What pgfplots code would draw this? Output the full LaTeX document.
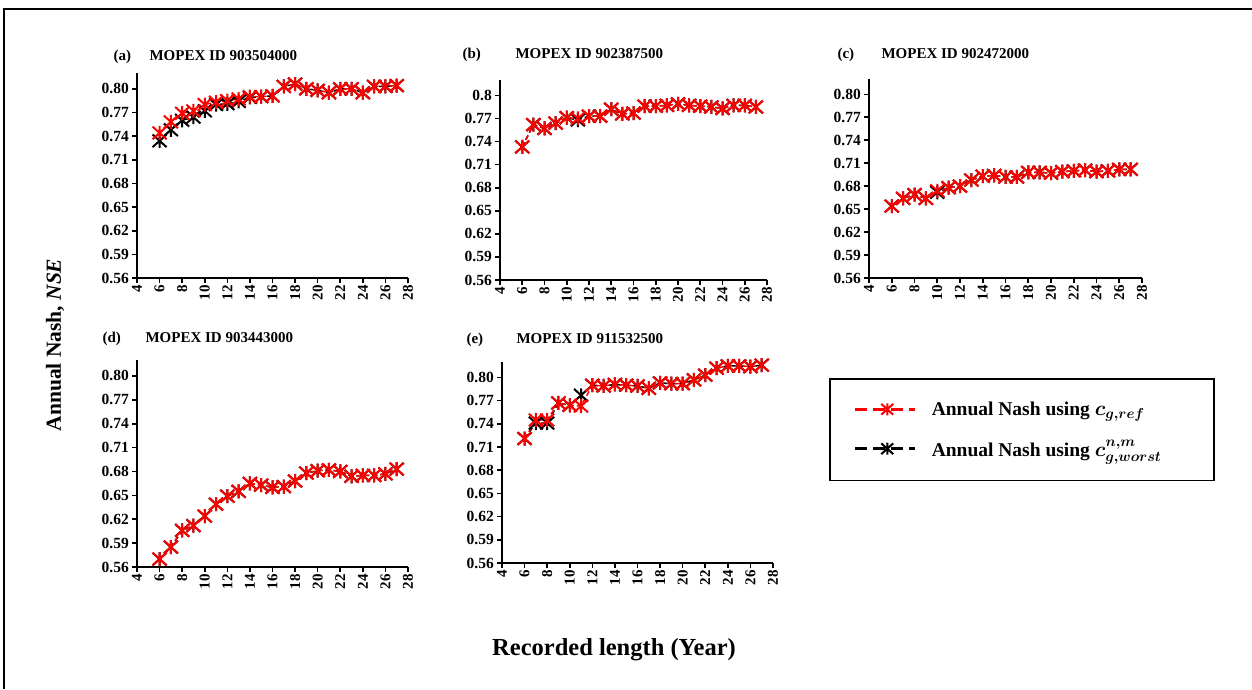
\documentclass[border=0pt]{standalone}
\usepackage{pgfplots}
\pgfplotsset{compat=1.18}
\usepackage{amsmath}
\usepackage{bm}
\usepackage{fontspec}
\setmainfont{Liberation Serif}
\newcommand\fs[1]{\fontsize{#1}{#1}\selectfont}
\pgfdeclareplotmark{xstar}{%
  \pgfpathmoveto{\pgfqpoint{-\pgfplotmarksize}{-0.9\pgfplotmarksize}}%
  \pgfpathlineto{\pgfqpoint{\pgfplotmarksize}{0.9\pgfplotmarksize}}%
  \pgfpathmoveto{\pgfqpoint{-\pgfplotmarksize}{0.9\pgfplotmarksize}}%
  \pgfpathlineto{\pgfqpoint{\pgfplotmarksize}{-0.9\pgfplotmarksize}}%
  \pgfpathmoveto{\pgfqpoint{0pt}{-\pgfplotmarksize}}%
  \pgfpathlineto{\pgfqpoint{0pt}{\pgfplotmarksize}}%
  \pgfusepathqstroke}
\pgfplotsset{
  panel/.style={
    scale only axis, anchor=south west,
    xmin=4, xmax=28, ymin=0.56, ymax=0.82,
    xtick={4,6,8,10,12,14,16,18,20,22,24,26,28},
    ytick={0.56,0.59,0.62,0.65,0.68,0.71,0.74,0.77,0.80},
    axis x line*=bottom, axis y line*=left,
    axis line style={line width=2pt, black},
    tick style={line width=1.6pt, black},
    major tick length=5pt, tick align=outside,
    /pgf/number format/assume math mode=true,
    xticklabel style={rotate=90, anchor=east, font=\bfseries\fs{15}, inner sep=2pt},
    yticklabel style={font=\bfseries\fs{15.5}, inner sep=3pt,
      /pgf/number format/.cd, fixed, fixed zerofill, precision=2},
    clip=false,
  },
  redser/.style={red, line width=1.5pt, dash pattern=on 5pt off 3pt,
    mark=xstar, mark size=7pt, mark options={solid, line width=2pt}},
  blkser/.style={black, line width=1.5pt, dash pattern=on 5pt off 3pt,
    mark=xstar, mark size=7pt, mark options={solid, line width=2pt}},
}
\begin{document}
\begin{tikzpicture}
\useasboundingbox (0pt,0pt) rectangle (1252pt,-689pt);
\draw[line width=2pt] (4pt,-689pt) -- (4pt,-9pt) -- (1252pt,-9pt);

% (a)
\begin{axis}[panel, at={(137pt,-278pt)}, width=271pt, height=205pt]
\addplot[blkser] coordinates {(6,0.734)(7,0.748)(8,0.760)(9,0.764)(10,0.772)(11,0.780)(12,0.781)(13,0.784)(14,0.789)(15,0.790)(16,0.791)(17,0.803)(18,0.806)(19,0.800)(20,0.798)(21,0.795)(22,0.800)(23,0.800)(24,0.795)(25,0.803)(26,0.803)(27,0.804)};
\addplot[redser] coordinates {(6,0.744)(7,0.758)(8,0.769)(9,0.772)(10,0.780)(11,0.783)(12,0.785)(13,0.787)(14,0.790)(15,0.790)(16,0.791)(17,0.803)(18,0.806)(19,0.800)(20,0.798)(21,0.795)(22,0.800)(23,0.800)(24,0.795)(25,0.803)(26,0.803)(27,0.804)};
\end{axis}

% (b)
\begin{axis}[panel, at={(500pt,-280pt)}, width=267pt, height=200pt,
  yticklabels={0.56,0.59,0.62,0.65,0.68,0.71,0.74,0.77,0.8}]
\addplot[blkser] coordinates {(6,0.733)(7,0.762)(8,0.757)(9,0.764)(10,0.771)(11,0.768)(12,0.773)(13,0.773)(14,0.782)(15,0.776)(16,0.777)(17,0.786)(18,0.786)(19,0.787)(20,0.789)(21,0.787)(22,0.786)(23,0.785)(24,0.783)(25,0.787)(26,0.787)(27,0.785)};
\addplot[redser] coordinates {(6,0.733)(7,0.762)(8,0.757)(9,0.764)(10,0.771)(11,0.770)(12,0.773)(13,0.773)(14,0.782)(15,0.776)(16,0.777)(17,0.786)(18,0.786)(19,0.787)(20,0.789)(21,0.787)(22,0.786)(23,0.785)(24,0.783)(25,0.787)(26,0.787)(27,0.785)};
\end{axis}

% (c)
\begin{axis}[panel, at={(869pt,-278pt)}, width=273pt, height=199pt]
\addplot[blkser] coordinates {(6,0.654)(7,0.664)(8,0.669)(9,0.664)(10,0.672)(11,0.678)(12,0.680)(13,0.688)(14,0.693)(15,0.694)(16,0.692)(17,0.692)(18,0.698)(19,0.698)(20,0.697)(21,0.699)(22,0.700)(23,0.701)(24,0.699)(25,0.700)(26,0.702)(27,0.702)};
\addplot[redser] coordinates {(6,0.654)(7,0.664)(8,0.669)(9,0.664)(10,0.674)(11,0.678)(12,0.680)(13,0.688)(14,0.693)(15,0.694)(16,0.692)(17,0.692)(18,0.698)(19,0.698)(20,0.697)(21,0.699)(22,0.700)(23,0.701)(24,0.699)(25,0.700)(26,0.702)(27,0.702)};
\end{axis}

% (d)
\begin{axis}[panel, at={(137pt,-567pt)}, width=271pt, height=207pt]
\addplot[blkser] coordinates {(6,0.570)(7,0.585)(8,0.606)(9,0.612)(10,0.624)(11,0.639)(12,0.649)(13,0.655)(14,0.665)(15,0.663)(16,0.660)(17,0.661)(18,0.668)(19,0.678)(20,0.681)(21,0.682)(22,0.680)(23,0.674)(24,0.675)(25,0.675)(26,0.677)(27,0.683)};
\addplot[redser] coordinates {(6,0.570)(7,0.585)(8,0.606)(9,0.612)(10,0.624)(11,0.639)(12,0.649)(13,0.655)(14,0.665)(15,0.663)(16,0.660)(17,0.661)(18,0.668)(19,0.678)(20,0.681)(21,0.682)(22,0.680)(23,0.674)(24,0.675)(25,0.675)(26,0.677)(27,0.683)};
\end{axis}

% (e)
\begin{axis}[panel, at={(502pt,-563pt)}, width=271pt, height=201pt,
  legend style={at={(1.2066,0.9204)}, anchor=north west, draw=black, line width=1.5pt,
    inner xsep=24pt, inner ysep=21pt, row sep=19pt, font=\bfseries\fs{19.5}},
  legend cell align=left,
  legend image code/.code={%
    \draw[#1, mark repeat=2, mark phase=2, line width=3pt, dash pattern=on 12pt off 6pt,
      mark size=6pt, mark options={solid, line width=2pt}]
      plot coordinates {(0pt,0pt) (32pt,0pt) (60pt,0pt)};}]
\addplot[blkser, forget plot] coordinates {(6,0.721)(7,0.741)(8,0.741)(9,0.767)(10,0.764)(11,0.777)(12,0.790)(13,0.789)(14,0.791)(15,0.790)(16,0.789)(17,0.786)(18,0.793)(19,0.792)(20,0.792)(21,0.797)(22,0.803)(23,0.812)(24,0.815)(25,0.815)(26,0.814)(27,0.816)};
\addplot[redser, forget plot] coordinates {(6,0.721)(7,0.745)(8,0.745)(9,0.767)(10,0.764)(11,0.763)(12,0.790)(13,0.789)(14,0.791)(15,0.790)(16,0.789)(17,0.786)(18,0.793)(19,0.792)(20,0.792)(21,0.797)(22,0.803)(23,0.812)(24,0.815)(25,0.815)(26,0.814)(27,0.816)};
\addlegendimage{red, mark=xstar}
\addlegendentry{\makebox[269pt][l]{\hspace*{13pt}Annual Nash using $\bm{c_{g,ref}}$}}
\addlegendimage{black, mark=xstar}
\addlegendentry{\makebox[269pt][l]{\hspace*{13pt}Annual Nash using $\bm{c^{n,m}_{g,worst}}$}}
\end{axis}

% titles
\node[anchor=base west, font=\bfseries\fs{15}] at (110pt,-60pt) {(a)};
\node[anchor=base west, font=\bfseries\fs{15}] at (146pt,-60pt) {MOPEX ID 903504000};
\node[anchor=base west, font=\bfseries\fs{15}] at (459pt,-58pt) {(b)};
\node[anchor=base west, font=\bfseries\fs{15}] at (512pt,-58pt) {MOPEX ID 902387500};
\node[anchor=base west, font=\bfseries\fs{15}] at (834pt,-58pt) {(c)};
\node[anchor=base west, font=\bfseries\fs{15}] at (878pt,-58pt) {MOPEX ID 902472000};
\node[anchor=base west, font=\bfseries\fs{15}] at (99pt,-342pt) {(d)};
\node[anchor=base west, font=\bfseries\fs{15}] at (142pt,-342pt) {MOPEX ID 903443000};
\node[anchor=base west, font=\bfseries\fs{15}] at (463pt,-343pt) {(e)};
\node[anchor=base west, font=\bfseries\fs{15}] at (513pt,-343pt) {MOPEX ID 911532500};

% axis labels
\node[rotate=90, font=\bfseries\fs{21.5}] at (55pt,-345pt) {Annual Nash, \textit{NSE}};
\node[font=\bfseries\fs{24.5}] at (614pt,-650pt) {Recorded length (Year)};
\end{tikzpicture}
\end{document}
